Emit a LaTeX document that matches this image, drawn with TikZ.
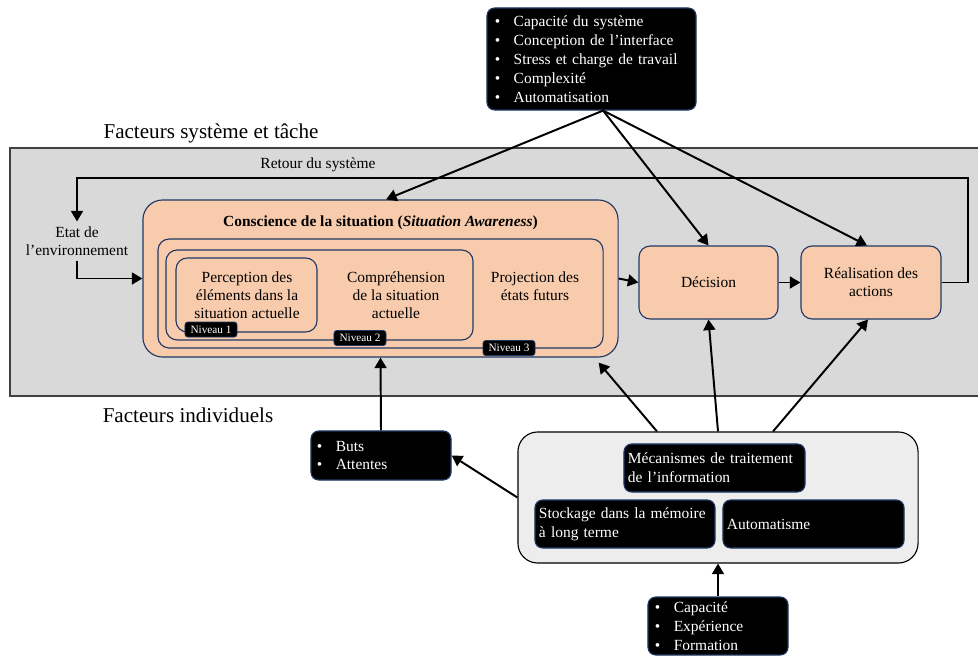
\documentclass[tikz,border=0pt]{standalone}
\usepackage{fontspec}
\setmainfont{Liberation Serif}
\usetikzlibrary{arrows.meta}
\definecolor{peche}{HTML}{F8CBAD}
\definecolor{marine}{HTML}{1F3864}
\definecolor{fond}{HTML}{D9D9D9}
\definecolor{clair}{HTML}{EDEDED}
\newcommand{\puce}{\textbullet\hspace{9.5pt}}

\begin{document}
\begin{tikzpicture}[x=0.025cm,y=-0.025cm,>={Triangle[length=7.5pt,width=8.5pt]}]
			\tikzstyle{bloc}=[draw=marine,fill=peche,rounded corners=8pt,line width=0.8pt,align=center,font=\fontsize{11}{13}\selectfont]
			\tikzstyle{noir}=[draw=marine,fill=black,text=white,rounded corners=5.5pt,line width=0.8pt,align=left,inner ysep=0pt,font=\fontsize{11}{13.5}\selectfont]
			\tikzstyle{niveau}=[draw=marine,fill=black,text=white,rounded corners=2pt,line width=0.6pt,inner sep=0pt,minimum width=1.3cm,minimum height=0.375cm,font=\fontsize{8}{9}\selectfont]
			\tikzstyle{texte}=[align=center,font=\fontsize{11}{13}\selectfont]
			\tikzstyle{fleche}=[->,line width=1.4pt]
			\useasboundingbox (0,0) rectangle (978,657);
			\draw[fill=fond,draw=black!75,line width=0.9pt] (10,148) rectangle (980,396);
			\node[font=\fontsize{15}{18}\selectfont] (FST) at (211,133) {Facteurs système et tâche};
			\node[font=\fontsize{15}{18}\selectfont] (FI) at (188,415) {Facteurs individuels};
			\node[noir,text width=4.825cm,inner xsep=0.2cm,minimum height=2.55cm] (Sys) at (591.5,59)
				{\puce Capacité du système\\\puce Conception de l’interface\\\puce Stress et charge de travail\\\puce Complexité\\\puce Automatisation};
			\node[bloc,rounded corners=14pt,minimum width=11.875cm,minimum height=3.925cm] (SA) at (380.5,278.5) {};
			\node[bloc,minimum width=11.125cm,minimum height=2.725cm] (N3) at (380.5,293.5) {};
			\node[bloc,minimum width=7.675cm,minimum height=2.25cm] (N2) at (319.5,295) {};
			\node[bloc,minimum width=3.525cm,minimum height=1.85cm] (N1) at (246.5,295) {};
			\node[texte,font=\bfseries\fontsize{11}{13}\selectfont] (titre) at (380.5,223) {Conscience de la situation (\textit{Situation Awareness})};
			\node[texte] (perc) at (247,295) {Perception des\\éléments dans la\\situation actuelle};
			\node[texte] (comp) at (396,295) {Compréhension\\de la situation\\actuelle};
			\node[texte] (proj) at (535,286) {Projection des\\états futurs};
			\node[niveau] (L1) at (211,329.5) {Niveau 1};
			\node[niveau] (L2) at (360,338) {Niveau 2};
			\node[niveau] (L3) at (509,348) {Niveau 3};
			\node[bloc,minimum width=3.475cm,minimum height=1.825cm] (Dec) at (708.5,282.5) {Décision};
			\node[bloc,minimum width=3.5cm,minimum height=1.825cm] (Real) at (871,282.5) {Réalisation des\\actions};
			\node[texte] (Etat) at (77,241) {Etat de\\l’environnement};
			\node[texte] (retour) at (318,165) {Retour du système};
			\coordinate (coin) at (968,178);
			\node[noir,text width=3.2cm,inner xsep=0.15cm,minimum height=1.225cm] (Buts) at (381,455.5) {\puce Buts\\\puce Attentes};
			\node[draw=black,fill=clair,rounded corners=14pt,line width=0.8pt,minimum width=10cm,minimum height=3.275cm] (Ind) at (718,497.5) {};
			\node[noir,text width=4.325cm,inner xsep=0.1cm,minimum height=1.2cm] (Meca) at (714.5,468) {Mécanismes de traitement\\de l’information};
			\node[noir,text width=4.3cm,inner xsep=0.1cm,minimum height=1.2cm] (Stock) at (625,524) {Stockage dans la mémoire\\à long terme};
			\node[noir,text width=4.325cm,inner xsep=0.1cm,minimum height=1.2cm] (Auto) at (813.5,524) {Automatisme};
			\node[noir,text width=3.15cm,inner xsep=0.175cm,minimum height=1.45cm] (Cap) at (718,626) {\puce Capacité\\\puce Expérience\\\puce Formation};
			\draw[fleche] (Etat.south) |- (SA.west);
			\draw[fleche] (SA.east) -- (Dec.west);
			\draw[fleche] (Dec.east) -- (Real.west);
			\draw[fleche] (Real.east) -| (coin) -| (Etat.north);
			\draw[fleche] ([xshift=0.29cm]Sys.south) -- ([xshift=0.14cm]SA.north);
			\draw[fleche] ([xshift=0.29cm]Sys.south) -- (Dec.north);
			\draw[fleche] ([xshift=0.29cm]Sys.south) -- ([xshift=-0.1cm]Real.north);
			\draw[fleche] (Buts.north) -- (SA.south);
			\draw[fleche] (Ind.west) -- (Buts.east);
			\draw[fleche] ([xshift=-1.525cm]Ind.north) -- ([shift={(-20,5)}]SA.south east);
			\draw[fleche] (Ind.north) -- (Dec.south);
			\draw[fleche] ([xshift=1.375cm]Ind.north) -- ([xshift=-0.075cm]Real.south);
			\draw[fleche] (Cap.north) -- (Ind.south);
\end{tikzpicture}
\end{document}
